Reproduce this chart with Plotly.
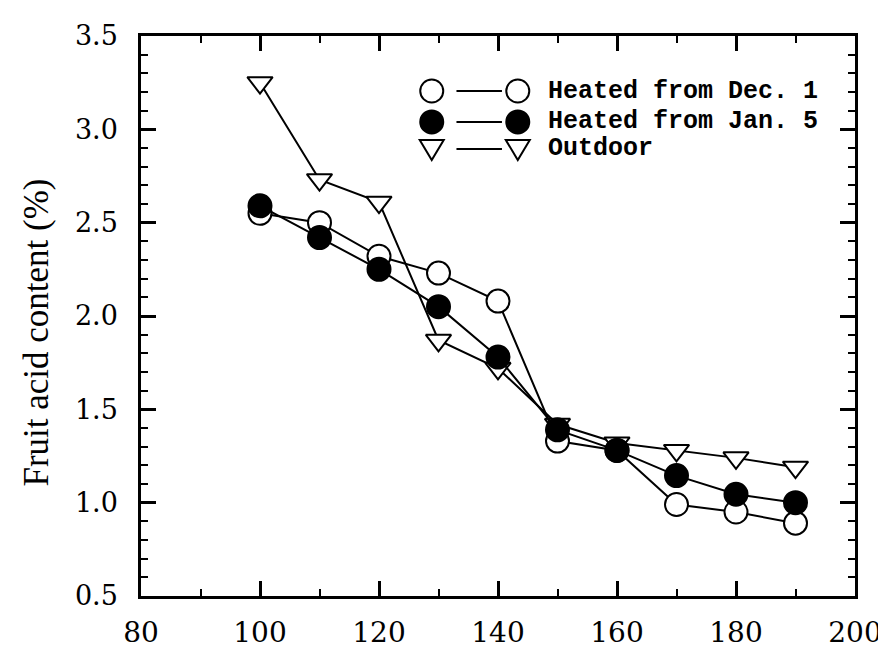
import plotly.graph_objects as go

days = [100, 110, 120, 130, 140, 150, 160, 170, 180, 190]
heated_dec1 = [2.55, 2.50, 2.32, 2.23, 2.08, 1.33, 1.28, 0.99, 0.95, 0.89]
heated_jan5 = [2.59, 2.42, 2.25, 2.05, 1.78, 1.39, 1.28, 1.145, 1.045, 1.00]
outdoor = [3.25, 2.73, 2.61, 1.87, 1.72, 1.42, 1.32, 1.28, 1.24, 1.19]

series_names = ["Heated from Dec. 1", "Heated from Jan. 5", "Outdoor"]
x_ticks = [80, 100, 120, 140, 160, 180, 200]
y_ticks = [0.5, 1.0, 1.5, 2.0, 2.5, 3.0, 3.5]

fig = go.Figure()

fig.add_trace(go.Scatter(
    x=days, y=outdoor, mode="lines+markers", name=series_names[2],
    line=dict(color="black", width=2),
    marker=dict(symbol="triangle-down", size=22, color="white",
                line=dict(color="black", width=2)),
    showlegend=False))
fig.add_trace(go.Scatter(
    x=days, y=heated_dec1, mode="lines+markers", name=series_names[0],
    line=dict(color="black", width=2),
    marker=dict(symbol="circle", size=23, color="white",
                line=dict(color="black", width=2)),
    showlegend=False))
fig.add_trace(go.Scatter(
    x=days, y=heated_jan5, mode="lines+markers", name=series_names[1],
    line=dict(color="black", width=2),
    marker=dict(symbol="circle", size=23, color="black",
                line=dict(color="black", width=2)),
    showlegend=False))

L, R, T, B = 133, 855, 23, 603
W = R - L
H = B - T

def px_x(p):
    return (p - L) / W

def px_y(p):
    return (B - p) / H

shapes = []
annotations = []
rows = [80, 112, 140]
kinds = ["open", "filled", "tri"]
for row, kind, name in zip(rows, kinds, series_names):
    yy = px_y(row)
    for cx in (427, 514):
        xx = px_x(cx)
        if kind == "tri":
            shapes.append(dict(type="path", xref="paper", yref="paper",
                               xsizemode="pixel", ysizemode="pixel",
                               xanchor=xx, yanchor=yy,
                               path="M-12,9 L12,9 L0,-11 Z",
                               line=dict(color="black", width=2),
                               fillcolor="white"))
        else:
            shapes.append(dict(type="circle", xref="paper", yref="paper",
                               xsizemode="pixel", ysizemode="pixel",
                               xanchor=xx, yanchor=yy,
                               x0=-11.5, x1=11.5, y0=-11.5, y1=11.5,
                               line=dict(color="black", width=2),
                               fillcolor="white" if kind == "open" else "black"))
    shapes.append(dict(type="line", xref="paper", yref="paper",
                       x0=px_x(452), x1=px_x(498), y0=yy, y1=yy,
                       line=dict(color="black", width=2)))
    annotations.append(dict(x=px_x(543), y=yy, xref="paper", yref="paper",
                            text="<b>" + name + "</b>", showarrow=False,
                            xanchor="left", yanchor="middle",
                            font=dict(family="Liberation Mono", size=25,
                                      color="black")))

# y-axis title
annotations.append(dict(x=px_x(27), y=px_y(330), xref="paper", yref="paper",
                        text="Fruit acid content (%)", textangle=-90,
                        showarrow=False, xanchor="center", yanchor="middle",
                        font=dict(family="Liberation Serif", size=35,
                                  color="black")))

axis_common = dict(showline=True, linecolor="black", linewidth=2.5,
                   mirror="allticks", ticks="inside", ticklen=15,
                   tickwidth=2.5, tickcolor="black", showgrid=False,
                   zeroline=False)

fig.update_layout(
    width=886, height=653,
    margin=dict(l=L, r=886 - R, t=T, b=653 - B),
    paper_bgcolor="white", plot_bgcolor="white",
    shapes=shapes, annotations=annotations,
    xaxis=dict(range=[80, 200], tickvals=x_ticks,
               ticktext=[str(v) for v in x_ticks],
               tickfont=dict(family="DejaVu Serif", size=28, color="black"),
               ticklabelstandoff=10,
               minor=dict(dtick=10, ticks="inside", ticklen=7,
                          tickwidth=1.5, tickcolor="black"),
               **axis_common),
    yaxis=dict(range=[0.5, 3.5], tickvals=y_ticks,
               ticktext=[f"{v:.1f}" for v in y_ticks],
               tickfont=dict(family="DejaVu Serif", size=27, color="black"),
               ticklabelstandoff=15,
               minor=dict(dtick=0.1, ticks="inside", ticklen=7,
                          tickwidth=1.5, tickcolor="black"),
               **axis_common),
)

fig.write_html("out.html")
